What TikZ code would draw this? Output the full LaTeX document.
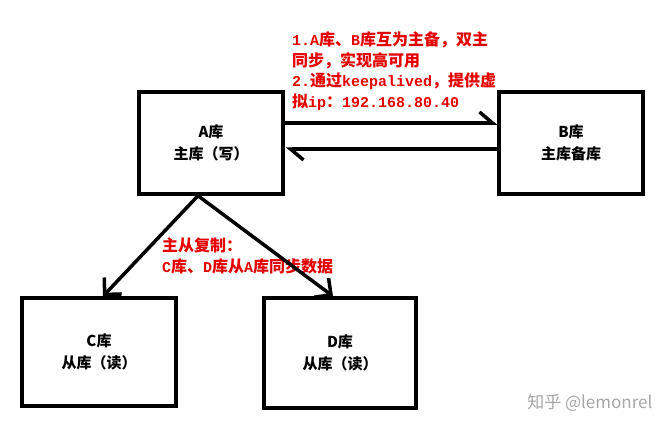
\documentclass[tikz,border=0pt]{standalone}
\usepackage{fontspec}
\usepackage{tikz}
\usetikzlibrary{arrows.meta}
\newfontfamily\cjk{Noto Sans CJK SC}
\newfontfamily\mono{Liberation Mono}
\def\en#1{{\mono\fontsize{15}{20.5}\selectfont #1}}
\tikzstyle{db}=[draw, rectangle, line width=3.5pt, align=center, font=\cjk\bfseries\fontsize{15}{22}\selectfont]
\tikzstyle{note}=[text=red!90!black, align=left, anchor=north west, inner sep=0pt, font=\cjk\bfseries\fontsize{16}{20.5}\selectfont]
\tikzstyle{link}=[line width=3.5pt]
\tikzstyle{sync}=[-{Straight Barb[left, length=13pt, width=22pt]}]
\tikzstyle{copy}=[-{Straight Barb[length=12pt, width=24pt]}]

\begin{document}
\begin{tikzpicture}[x=1pt, y=-1pt]
    \useasboundingbox (0,0) rectangle (667,431);

    \node [db, minimum width=144pt, minimum height=102pt] (A) at (211,143) {A库\\主库（写）};
    \node [db, minimum width=144pt, minimum height=102pt] (B) at (571,143) {B库\\主库备库};
    \node [db, minimum width=154pt, minimum height=108pt] (C) at (99,352)  {C库\\从库（读）};
    \node [db, minimum width=152pt, minimum height=110pt] (D) at (340,353) {D库\\从库（读）};

    \node [note] (ha) at (292,32) {\en{1.A}库、\en{B}库互为主备，双主\\同步，实现高可用\\\en{2.}通过\en{keepalived}，提供虚\\拟\en{ip}：\en{192.168.80.40}};
    \node [note] (ms) at (162,238) {主从复制：\\\en{C}库、\en{D}库从\en{A}库同步数据};

    \path [link, sync] ([yshift=20pt]A.east) edge ([yshift=20pt]B.west)
                       ([yshift=-6pt]B.west) edge [shorten >=1pt] ([yshift=-6pt]A.east);
    \path [link, copy] ([xshift=-13pt]A.south) edge ([xshift=4pt]C.north)
                       ([xshift=-13pt]A.south) edge ([xshift=-7pt]D.north);

    %\node (wm) watermark
    \node [anchor=east, text=black!35, font=\cjk\fontsize{17}{20}\selectfont] (wm) at (656,403) {知乎 @lemonrel};
\end{tikzpicture}
\end{document}
